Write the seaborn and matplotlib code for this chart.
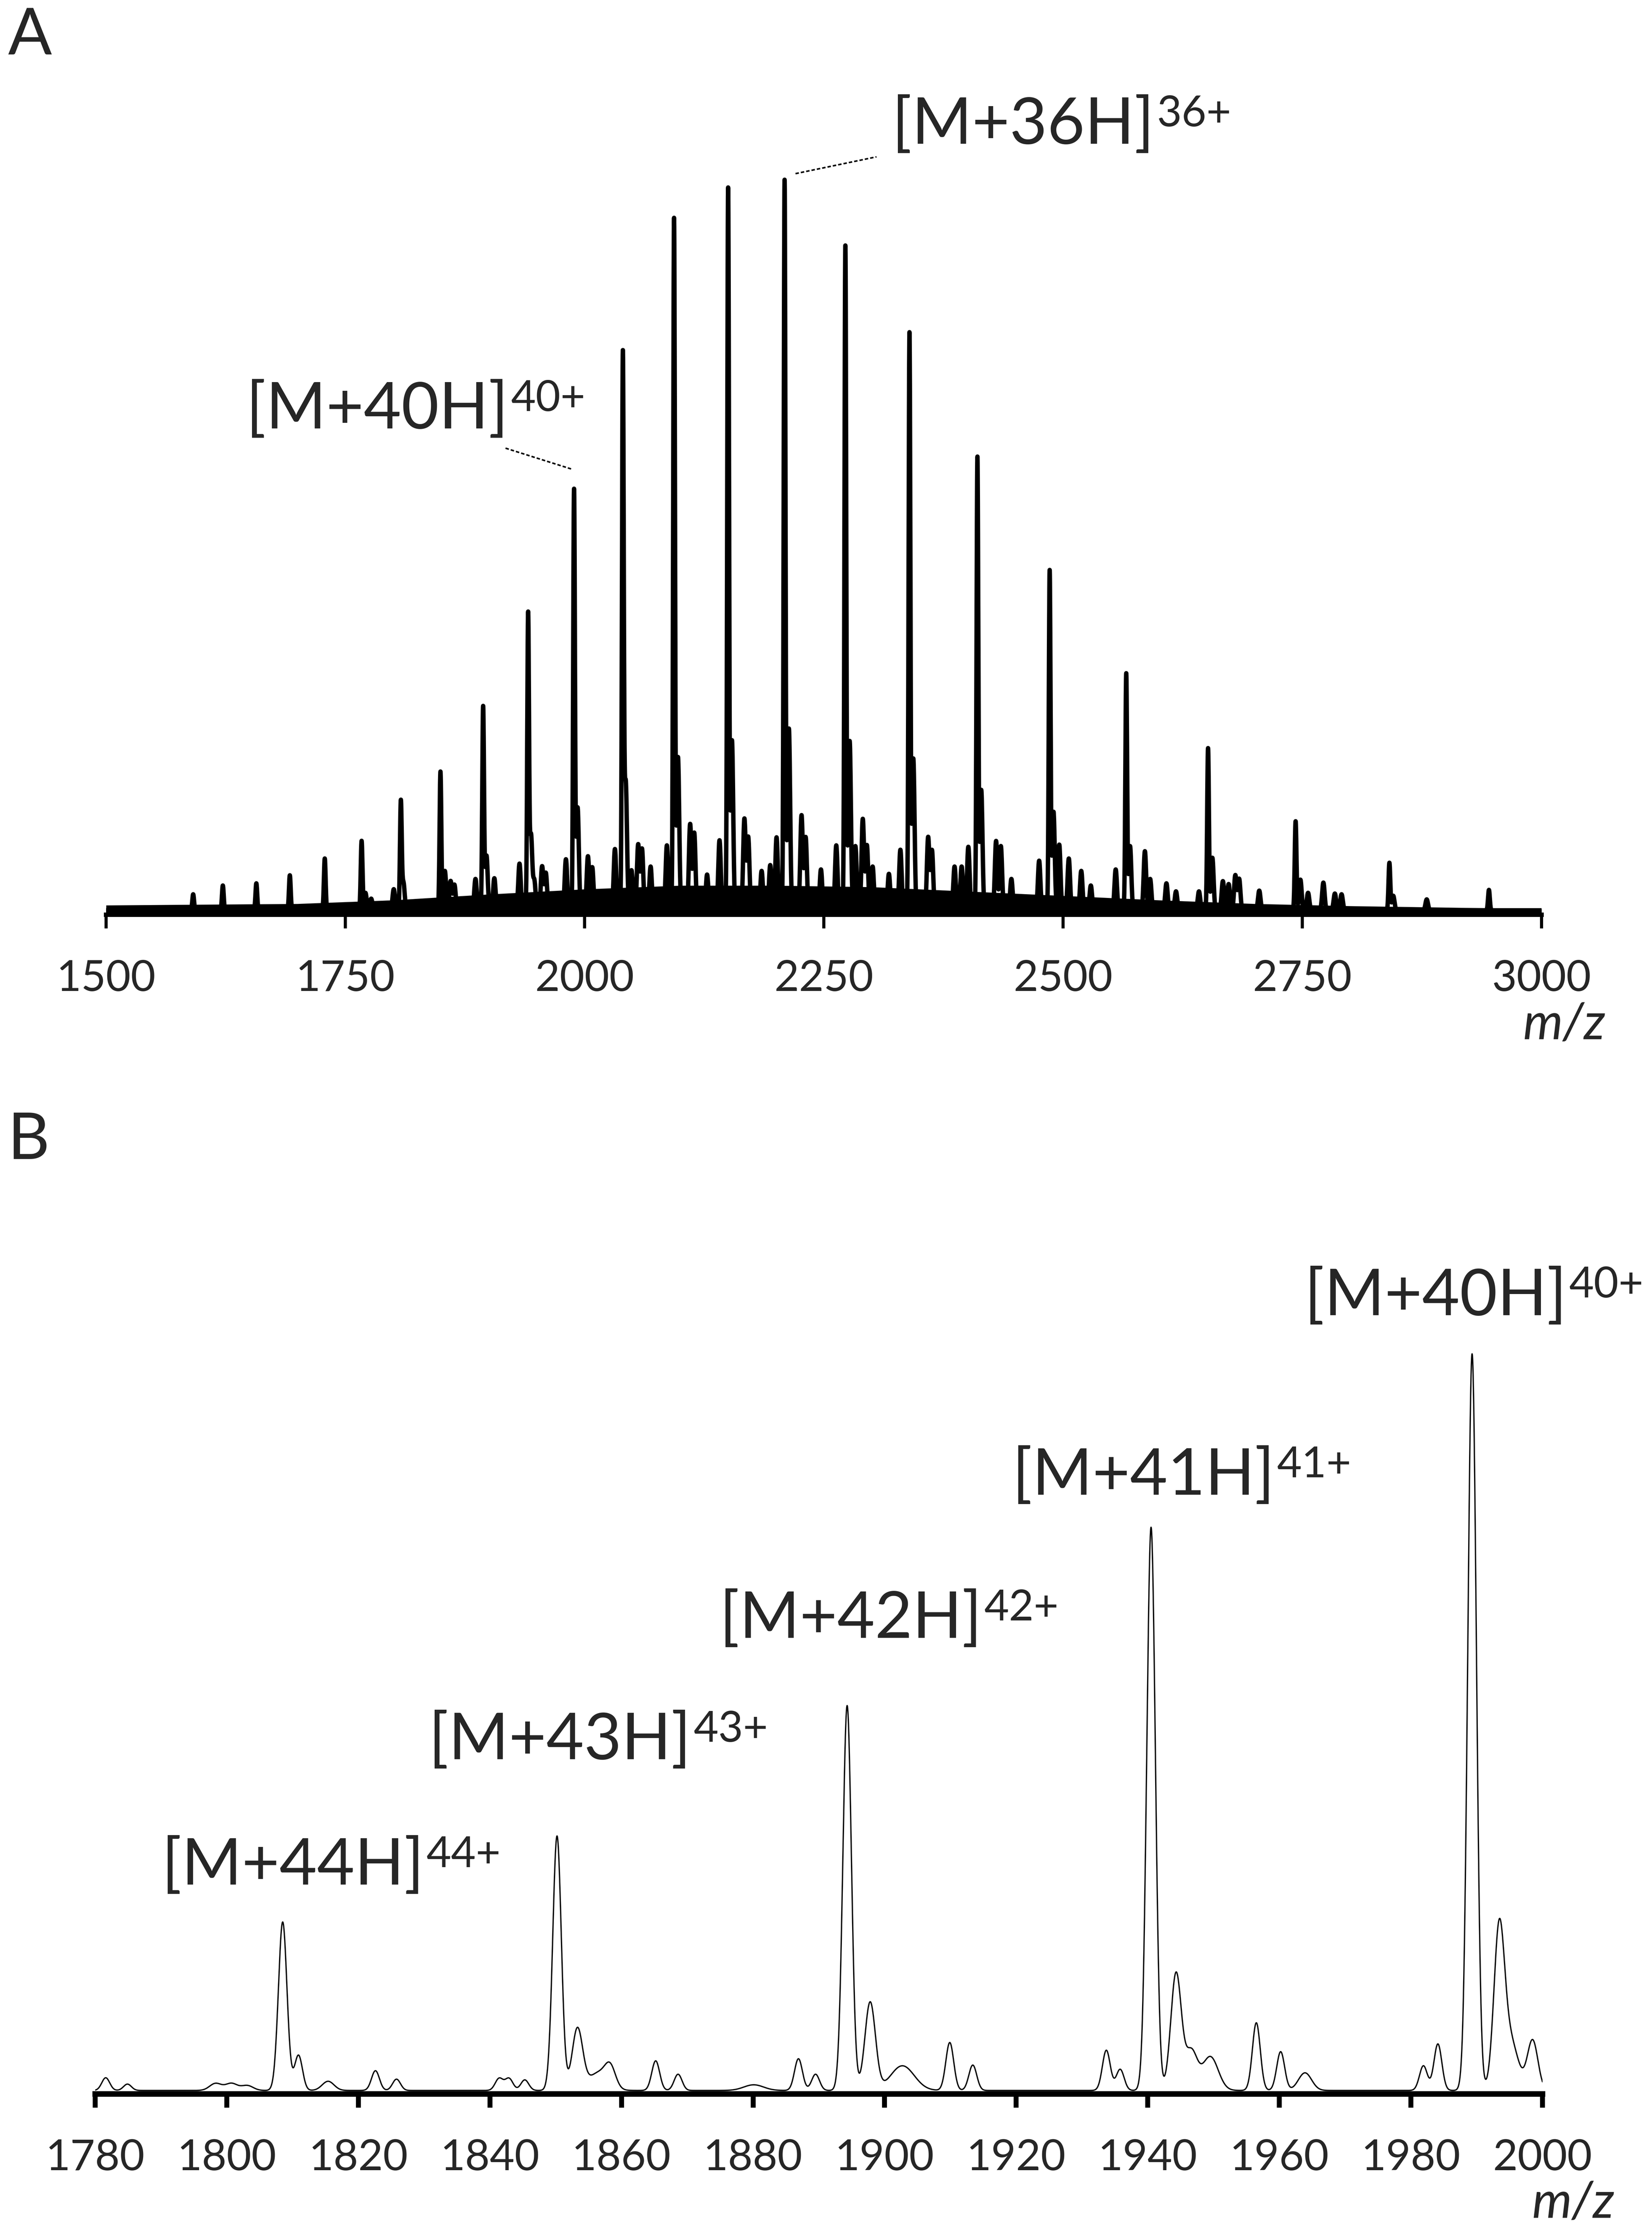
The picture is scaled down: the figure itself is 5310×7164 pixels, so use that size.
import numpy as np
import pandas as pd
import matplotlib
matplotlib.use("Agg")
import matplotlib.pyplot as plt
import seaborn as sns

# ---- panel A: full charge state envelope (intensity in % of the 36+ peak) ----
a_main_mz = [1591, 1622, 1657, 1692, 1728.5, 1767, 1808, 1849.4, 1894, 1941, 1989, 2040,
             2093.5, 2150, 2209, 2272.5, 2339.5, 2410.5, 2486, 2566, 2651.5, 2743, 2841, 2945]
a_main_int = [2.2, 3.4, 3.7, 4.8, 7.1, 9.5, 14.7, 19.0, 27.8, 40.2, 57.5, 75.5,
              94.7, 98.8, 100, 91, 79, 62, 46.5, 32.4, 22.2, 12.2, 6.5, 2.8]

a_minor_mz = [1771, 1777, 1800.6, 1810.7, 1854, 1860, 1864, 1886, 1897.5, 1905.7, 1932, 1944,
              1947.5, 1955.6, 1959.5, 1980.5, 1992.7, 2003.5, 2008, 2031.7, 2043, 2049, 2056,
              2060, 2069, 2086, 2097.6, 2110.3, 2114.6, 2128, 2141, 2154, 2167, 2171, 2185,
              2194, 2200.6, 2213.5, 2226.7, 2231, 2247, 2263, 2277, 2283, 2290.7, 2295, 2301,
              2318, 2330, 2343.5, 2359, 2363, 2386.6, 2394, 2401, 2414.5, 2430, 2435, 2446,
              2475, 2490, 2496, 2506, 2519, 2529, 2555, 2570, 2585.5, 2591, 2608, 2618, 2642,
              2656, 2667, 2673, 2680, 2684, 2705, 2748, 2756, 2772, 2784, 2791, 2845, 2880]
a_minor_int = [2.4, 1.6, 2.9, 3.8, 5.4, 4.0, 3.5, 4.3, 7.5, 4.4, 6.4, 10.3,
               4.0, 6.0, 5.1, 7.0, 14.1, 7.4, 5.9, 8.4, 17.6, 5.5, 9.0,
               8.4, 6.0, 8.9, 21.0, 11.8, 10.6, 4.9, 9.6, 23.3, 12.5, 10.0, 5.4,
               6.2, 10.0, 24.9, 13.0, 10.0, 5.6, 8.9, 23.2, 8.8, 12.5, 8.9, 6.0,
               5.0, 8.3, 20.8, 10.0, 8.2, 6.0, 6.0, 8.7, 16.5, 9.5, 8.8, 4.3,
               6.8, 13.5, 9.0, 7.1, 5.4, 3.4, 5.6, 8.8, 8.1, 4.3, 3.7, 2.6, 2.6,
               7.2, 4.0, 3.6, 4.8, 4.3, 2.7, 4.2, 2.4, 3.8, 2.3, 2.2, 2.0, 1.5]

# dense noise band along the baseline
a_floor_mz = [1500, 1600, 1700, 1800, 1900, 2000, 2100, 2200, 2300, 2400, 2500, 2600, 2700, 2800, 2900, 3000]
a_floor_int = [1.3, 1.4, 1.5, 2.0, 2.8, 3.5, 4.0, 4.0, 3.8, 3.2, 2.6, 2.0, 1.5, 1.2, 1.0, 0.8]

a_ticks = [1500, 1750, 2000, 2250, 2500, 2750, 3000]

# ---- panel B: zoom 1780-2000 (arbitrary intensity units) ----
b_main_mz = [1808.5, 1850.2, 1894.3, 1940.5, 1989.3]
b_main_int = [23.9, 36.1, 54.6, 79.9, 104.5]

b_minor_mz = [1781.6, 1784.9, 1798.3, 1800.7, 1803.1, 1810.9, 1815.4, 1822.6, 1825.8, 1841.4,
              1842.9, 1845.3, 1853.3, 1856.5, 1858.3, 1865.2, 1868.6, 1880.1, 1886.9, 1889.5,
              1897.8, 1902.7, 1909.9, 1913.4, 1933.7, 1935.8, 1944.3, 1946.6, 1949.5, 1956.5,
              1960.2, 1963.9, 1981.9, 1984.1, 1993.4, 1995.1, 1998.5]
b_minor_int = [1.8, 0.9, 1.0, 1.0, 0.7, 5.0, 1.3, 2.8, 1.6, 1.7,
               1.7, 1.5, 8.7, 2.5, 2.7, 4.2, 2.3, 0.8, 4.5, 2.3,
               12.5, 3.5, 6.8, 3.6, 5.7, 3.0, 16.6, 5.5, 4.8, 9.6,
               5.5, 2.5, 3.5, 6.6, 21.7, 7.0, 7.1]
b_minor_w = [0.6, 0.6, 0.9, 0.9, 0.9, 0.6, 0.9, 0.6, 0.6, 0.6,
             0.6, 0.6, 0.8, 1.5, 0.8, 0.6, 0.6, 1.5, 0.6, 0.6,
             0.8, 1.8, 0.6, 0.6, 0.6, 0.6, 0.8, 0.9, 1.2, 0.6,
             0.6, 1.0, 0.6, 0.6, 0.8, 1.2, 0.8]
b_floor = 0.5

b_ticks = [1780, 1800, 1820, 1840, 1860, 1880, 1900, 1920, 1940, 1960, 1980, 2000]

# ion labels: (charge, text x, text baseline y) in data units
a_ions = [(40, 1646.3, 66.6), (36, 2321.2, 105.6)]
a_leaders = [((1917.4, 1987.3), (63.9, 61.0)), ((2220.4, 2305.0), (101.5, 103.8))]
b_ions = [(44, 1790.1, 29.7), (43, 1830.7, 47.5), (42, 1874.9, 64.7),
          (41, 1919.4, 85.0), (40, 1963.8, 110.5)]


def spectrum(x, centers, heights, widths):
    c = np.asarray(centers)[None, :]
    h = np.asarray(heights)[None, :]
    w = np.asarray(widths)[None, :] if np.ndim(widths) else widths
    return (h * np.exp(-0.5 * ((x[:, None] - c) / w) ** 2)).sum(axis=1)


def ion_label(ax, z, x, y):
    t = ax.text(x, y, "[M+%dH]" % z, fontsize=50, ha="left", va="baseline")
    ax.annotate("%d+" % z, xy=(1, 1), xycoords=t, xytext=(2, 1),
                textcoords="offset points", fontsize=33, ha="left", va="top")


sns.set_theme(style="white")
plt.rcParams["font.family"] = ["Lato", "DejaVu Sans"]

fig = plt.figure(figsize=(17.7, 23.88), dpi=300)

# panel A
xa = np.arange(1500, 3000.001, 0.05)
ya = 0.6 + spectrum(xa, a_main_mz, a_main_int, 0.9) + spectrum(xa, a_minor_mz, a_minor_int, 1.3)
df_a = pd.DataFrame({"mz": xa, "intensity": ya})

ax1 = fig.add_axes([0.06422, 0.58962, 0.86893, 0.36851])
ax1.fill_between(a_floor_mz, 0, a_floor_int, color="black", lw=0)
sns.lineplot(data=df_a, x="mz", y="intensity", ax=ax1, color="black", lw=3.4,
             estimator=None, sort=False)
ax1.set_xlim(1500, 3000)
ax1.set_ylim(0, 112.5)
ax1.set_xticks(a_ticks)
ax1.set_yticks([])
for z, x, y in a_ions:
    ion_label(ax1, z, x, y)
for xs, ys in a_leaders:
    ax1.plot(xs, ys, color="black", lw=1.2, ls=(0, (2.2, 1.3)))

# panel B
xb = np.arange(1780, 2000.001, 0.02)
yb = b_floor + spectrum(xb, b_main_mz, b_main_int, 0.65) + spectrum(xb, b_minor_mz, b_minor_int, b_minor_w)
df_b = pd.DataFrame({"mz": xb, "intensity": yb})

ax2 = fig.add_axes([0.05763, 0.06058, 0.87608, 0.38107])
sns.lineplot(data=df_b, x="mz", y="intensity", ax=ax2, color="black", lw=1.0,
             estimator=None, sort=False)
ax2.set_xlim(1780, 2000)
ax2.set_ylim(0, 120.5)
ax2.set_xticks(b_ticks)
ax2.set_yticks([])
for z, x, y in b_ions:
    ion_label(ax2, z, x, y)

for ax, spw, tw in [(ax1, 3.4, 2.4), (ax2, 4.3, 3.8)]:
    sns.despine(ax=ax, left=True)
    ax.spines["bottom"].set_linewidth(spw)
    ax.spines["bottom"].set_color("black")
    ax.tick_params(axis="x", direction="out", length=10.5, width=tw, color="black",
                   labelsize=33, pad=24, bottom=True)
    ax.set_xlabel("")
    ax.set_ylabel("")
    ax.patch.set_alpha(0)

fig.text(5028 / 5310, 1 - 3340 / 7164, "m/z", fontsize=39, style="italic", ha="center", va="baseline")
fig.text(5057 / 5310, 1 - 7128 / 7164, "m/z", fontsize=39, style="italic", ha="center", va="baseline")
fig.text(25 / 5310, 1 - 175 / 7164, "A", fontsize=50, ha="left", va="baseline")
fig.text(25 / 5310, 1 - 3725 / 7164, "B", fontsize=50, ha="left", va="baseline")

fig.savefig("out.png", dpi=300, facecolor="white")
